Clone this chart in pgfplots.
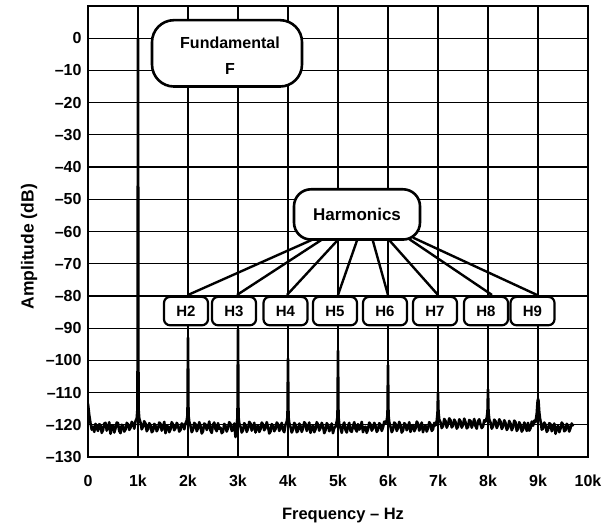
\documentclass[border=0pt]{standalone}
\usepackage{pgfplots}
\pgfplotsset{compat=1.18}
\usepackage{pgfplotstable}
\usepackage{fontspec}
\setmainfont{Liberation Sans}
\pgfplotstableread{
x y
0 -113.5
25 -117
50 -119.5
75 -121.5
100 -120.6
125 -122.2
150 -119.7
175 -121.0
200 -121.9
225 -119.8
250 -120.1
275 -122.5
300 -121.7
325 -119.6
350 -119.4
375 -121.8
400 -120.9
425 -119.2
450 -122.8
475 -120.5
500 -120.2
525 -122.4
550 -121.1
575 -119.3
600 -119.5
625 -121.9
650 -122.6
675 -120.0
700 -120.4
725 -122.1
750 -121.5
775 -119.4
800 -119.8
825 -121.6
850 -120.9
875 -119.1
900 -119.6
925 -121.2
950 -118.9
975 -118.0
990 -115
1000 0
1010 -115
1025 -118
1050 -119.3
1075 -121.4
1100 -120.6
1125 -118.9
1150 -119.6
1175 -122.0
1200 -121.3
1225 -119.5
1250 -120.1
1275 -122.3
1300 -121.9
1325 -119.7
1350 -120.3
1375 -122.0
1400 -121.2
1425 -119.3
1450 -119.7
1475 -121.8
1500 -120.8
1525 -119.1
1550 -122.6
1575 -120.4
1600 -120.5
1625 -122.3
1650 -121.4
1675 -119.2
1700 -119.9
1725 -121.7
1750 -121.0
1775 -119.4
1800 -120.2
1825 -122.1
1850 -121.6
1875 -119.6
1900 -120.0
1925 -121.4
1950 -119.6
1975 -118.6
1990 -117
2000 -93
2010 -117
2025 -119
2050 -120.4
2075 -122.3
2100 -121.5
2125 -119.4
2150 -119.8
2175 -122.0
2200 -121.1
2225 -119.2
2250 -120.3
2275 -122.7
2300 -122.0
2325 -119.6
2350 -119.9
2375 -121.6
2400 -120.7
2425 -119.0
2450 -121.8
2475 -122.5
2500 -120.0
2525 -119.3
2550 -121.3
2575 -122.0
2600 -119.5
2625 -121.2
2650 -120.9
2675 -122.6
2700 -122.2
2725 -119.7
2750 -120.4
2775 -122.1
2800 -121.0
2825 -119.2
2850 -119.7
2875 -121.9
2900 -121.5
2925 -119.6
2950 -123.8
2975 -120.0
2990 -117.5
3000 -90.5
3010 -117.5
3025 -119.5
3050 -120.6
3075 -122.4
3100 -121.7
3125 -119.5
3150 -120.1
3175 -122.2
3200 -121.2
3225 -119.1
3250 -119.6
3275 -121.8
3300 -120.8
3325 -119.4
3350 -122.4
3375 -120.6
3400 -120.3
3425 -122.2
3450 -121.4
3475 -119.3
3500 -119.9
3525 -121.7
3550 -121.0
3575 -119.2
3600 -120.5
3625 -122.7
3650 -122.1
3675 -119.8
3700 -120.2
3725 -122.0
3750 -121.3
3775 -119.3
3800 -119.8
3825 -121.9
3850 -120.9
3875 -119.4
3900 -121.6
3925 -122.3
3950 -120.0
3975 -119.0
3990 -117.5
4000 -99.5
4010 -117.5
4025 -119.4
4050 -120.7
4075 -122.4
4100 -121.5
4125 -119.4
4150 -120.0
4175 -122.3
4200 -121.9
4225 -119.6
4250 -120.4
4275 -122.2
4300 -121.1
4325 -119.2
4350 -119.7
4375 -121.9
4400 -120.8
4425 -119.3
4450 -122.5
4475 -120.7
4500 -120.3
4525 -122.3
4550 -121.4
4575 -119.2
4600 -119.9
4625 -121.8
4650 -121.0
4675 -119.4
4700 -120.4
4725 -122.6
4750 -121.7
4775 -119.5
4800 -120.1
4825 -122.0
4850 -121.2
4875 -119.6
4900 -122.6
4925 -121.0
4950 -120.6
4975 -119.0
4990 -117.5
5000 -97
5010 -117.5
5025 -119.8
5050 -121.0
5075 -122.5
5100 -120.2
5125 -119.3
5150 -121.6
5175 -122.4
5200 -120.5
5225 -119.4
5250 -121.9
5275 -122.2
5300 -120.4
5325 -119.2
5350 -121.3
5375 -122.1
5400 -119.8
5425 -121.5
5450 -120.9
5475 -119.1
5500 -122.3
5525 -120.9
5550 -120.6
5575 -122.5
5600 -121.4
5625 -119.3
5650 -119.9
5675 -121.8
5700 -121.1
5725 -119.4
5750 -120.3
5775 -122.2
5800 -121.6
5825 -119.5
5850 -120.0
5875 -121.9
5900 -120.8
5925 -119.0
5950 -119.5
5975 -118.6
5990 -117
6000 -101.5
6010 -117
6025 -119.2
6050 -120.6
6075 -122.3
6100 -121.5
6125 -119.3
6150 -119.7
6175 -121.9
6200 -121.0
6225 -119.1
6250 -120.2
6275 -122.4
6300 -121.8
6325 -119.5
6350 -119.9
6375 -121.7
6400 -120.7
6425 -119.2
6450 -122.2
6475 -120.4
6500 -120.1
6525 -122.0
6550 -121.2
6575 -119.0
6600 -119.6
6625 -121.8
6650 -120.8
6675 -119.3
6700 -122.3
6725 -120.6
6750 -120.3
6775 -122.1
6800 -121.1
6825 -119.2
6850 -119.8
6875 -121.9
6900 -121.4
6925 -119.4
6950 -120.2
6975 -118.8
6990 -116.5
7000 -110
7010 -116
7025 -118.4
7050 -119.2
7075 -121.0
7100 -120.4
7125 -118.2
7150 -118.8
7175 -120.9
7200 -119.9
7225 -118.0
7250 -118.6
7275 -120.8
7300 -120.3
7325 -118.4
7350 -119.1
7375 -121.2
7400 -120.6
7425 -118.3
7450 -118.9
7475 -120.9
7500 -120.0
7525 -118.1
7550 -119.2
7575 -121.1
7600 -120.7
7625 -118.5
7650 -118.8
7675 -120.9
7700 -119.6
7725 -118.2
7750 -120.4
7775 -121.2
7800 -118.9
7825 -118.3
7850 -119.8
7875 -121.0
7900 -120.5
7925 -118.6
7950 -119.0
7975 -117.8
7990 -116
8000 -109
8010 -116
8025 -118.3
8050 -119.3
8075 -121.2
8100 -120.5
8125 -118.4
8150 -118.9
8175 -121.0
8200 -120.1
8225 -118.3
8250 -119.0
8275 -121.3
8300 -120.6
8325 -118.6
8350 -119.4
8375 -121.6
8400 -121.0
8425 -118.8
8450 -119.6
8475 -121.7
8500 -120.8
8525 -118.7
8550 -119.2
8575 -121.9
8600 -121.3
8625 -119.2
8650 -120.0
8675 -122.1
8700 -121.5
8725 -119.3
8750 -120.2
8775 -121.9
8800 -119.4
8825 -121.8
8850 -121.1
8875 -119.0
8900 -120.3
8925 -118.7
8950 -119.2
8975 -116.5
8990 -113
9000 -112
9010 -112.5
9025 -116
9040 -118
9060 -119.6
9075 -121.5
9100 -121.2
9125 -119.3
9150 -120.0
9175 -122.2
9200 -121.6
9225 -119.5
9250 -119.8
9275 -122.0
9300 -121.0
9325 -119.6
9350 -122.8
9375 -120.8
9400 -120.4
9425 -122.3
9450 -121.2
9475 -119.3
9500 -119.9
9525 -122.0
9550 -121.7
9575 -119.7
9600 -120.3
9625 -122.1
9650 -121.0
9675 -119.6
9700 -120.5
}\spectrum
\begin{document}
\begin{tikzpicture}
\begin{axis}[
  scale only axis, width=500pt, height=451pt,
  xmin=0, xmax=10000, ymin=-130, ymax=10,
  scaled x ticks=false,
  xtick={0,1000,2000,3000,4000,5000,6000,7000,8000,9000,10000},
  xticklabels={0,1k,2k,3k,4k,5k,6k,7k,8k,9k,10k},
  ytick={-130,-120,-110,-100,-90,-80,-70,-60,-50,-40,-30,-20,-10,0},
  yticklabels={--130,--120,--110,--100,--90,--80,--70,--60,--50,--40,--30,--20,--10,0},
  grid=major, major grid style={black, line width=1.2pt},
  major tick length=0pt,
  axis line style={line width=2.4pt},
  tick label style={font=\fontsize{16}{18}\selectfont\bfseries},
  xticklabel style={yshift=-14pt, text height=11.5pt, text depth=0pt},
  yticklabel style={xshift=-3pt},
  xlabel={Frequency -- Hz}, ylabel={Amplitude (dB)},
  xlabel style={font=\fontsize{16.5}{18}\selectfont\bfseries, at={(axis description cs:0.51,-0.129)}, anchor=center},
  ylabel style={font=\fontsize{17.5}{19}\selectfont\bfseries, at={(axis description cs:-0.118,0.466)}, anchor=center},
]
\addplot[black, line width=2.6pt, line join=round] table[x=x,y=y] {\spectrum};
\coordinate (sw) at (rel axis cs:0,0);
% connector lines
\begin{scope}[line width=2.4pt]
\draw (axis cs:4580,-61.9) -- (axis cs:2000,-79.7);
\draw (axis cs:4740,-61.9) -- (axis cs:2980,-79.7);
\draw (axis cs:5040,-61.9) -- (axis cs:3980,-79.7);
\draw (axis cs:5400,-61.9) -- (axis cs:5000,-79.7);
\draw (axis cs:5680,-61.9) -- (axis cs:6000,-79.7);
\draw (axis cs:5980,-61.9) -- (axis cs:7000,-79.7);
\draw (axis cs:6380,-61.9) -- (axis cs:8080,-79.7);
\draw (axis cs:6500,-61.9) -- (axis cs:8980,-79.7);
\end{scope}
% Fundamental box
\draw[line width=2.6pt, fill=white, rounded corners=22pt] (axis cs:1280,5.6) rectangle (axis cs:4280,-15);
\node[font=\fontsize{16}{26}\selectfont\bfseries, align=center] at (axis cs:2840,-5.3) {Fundamental\\F};
% Harmonics box
\draw[line width=2.6pt, fill=white, rounded corners=17pt] (axis cs:4120,-46.9) rectangle (axis cs:6640,-62.5);
\node[font=\fontsize{17}{19}\selectfont\bfseries] at (axis cs:5380,-54.6) {Harmonics};
% H boxes
\foreach \c/\t in {1960/H2,2920/H3,3950/H4,4940/H5,5940/H6,6940/H7,7960/H8,8890/H9}{
  \edef\temp{\noexpand\draw[line width=2.2pt, fill=white, rounded corners=6pt] (axis cs:\c-440,-80.3) rectangle (axis cs:\c+440,-89.1);
  \noexpand\node[font=\noexpand\fontsize{15}{17}\noexpand\selectfont\noexpand\bfseries] at (axis cs:\c,-84.7) {\t};}
  \temp
}
\end{axis}
\pgfresetboundingbox
\path (sw) ++(-88pt,-69pt) rectangle ++(605pt,526pt);
\end{tikzpicture}
\end{document}
